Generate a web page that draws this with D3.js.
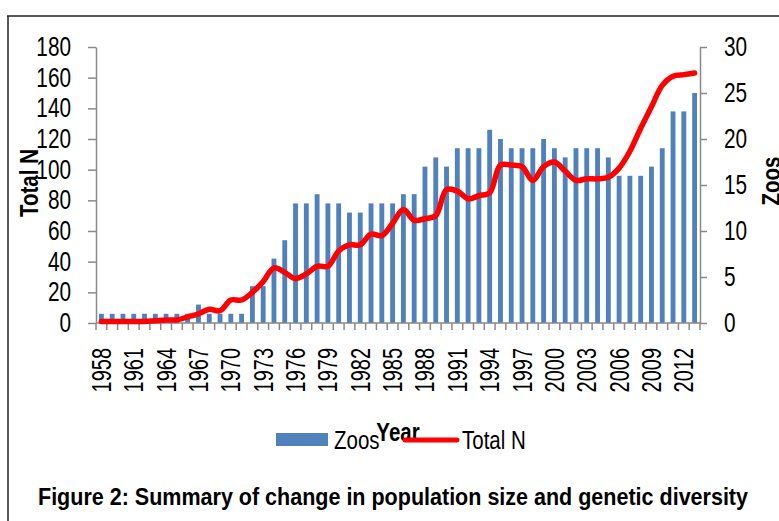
<!DOCTYPE html>
<meta charset="utf-8">
<style>
body { margin: 0; background: #fff; }
svg text { font-family: "Liberation Sans", Arial, sans-serif; fill: #000; }
.axis path, .axis line { stroke: #898989; stroke-width: 1.5px; }
.axis text { font-size: 27px; }
.title { font-weight: bold; }
</style>
<svg width="779" height="521"></svg>
<script src="https://d3js.org/d3.v7.min.js"></script>
<script>

// one entry per year, 1958..2013
var years = d3.range(1958, 2014);
var zoos = [1, 1, 1, 1, 1, 1, 1, 1, 1, 2, 1, 1, 1, 1,
  4, 4, 7, 9, 13, 13, 14, 13, 13, 12, 12, 13, 13, 13, 14, 14,
  17, 18, 17, 19, 19, 19, 21, 20, 19, 19, 19, 20, 19, 18, 19, 19,
  19, 18, 16, 16, 16, 17, 19, 23, 23, 25];
var totalN = [1, 1, 1, 1, 1, 1.5, 2, 2, 4, 6, 9, 8, 15, 15,
  20, 27, 36, 33, 29, 32, 37, 37, 47, 51, 51, 58, 57, 65, 74, 67,
  68, 70, 87, 86, 81, 83, 85, 103, 103, 102, 93, 102, 105, 99, 93, 94,
  94, 95, 101, 112, 127, 141, 155, 161, 162, 163];
var leftTicks = [0, 20, 40, 60, 80, 100, 120, 140, 160, 180];
var rightTicks = [0, 5, 10, 15, 20, 25, 30];
var labelYears = years.filter(function(d) { return (d - 1958) % 3 === 0; });

var svg = d3.select("svg");
var plotL = 96, plotR = 700, plotT = 47, plotB = 323;

// no Arial Narrow here, squeeze Liberation Sans along the baseline instead
function narrow(sel, k) {
  sel.each(function() {
    var t = d3.select(this);
    var tx = +t.attr("x") || 0, ty = +t.attr("y") || 0;
    var tr = t.attr("transform") || "";
    t.attr("x", null).attr("y", null)
      .attr("transform", tr + " translate(" + tx + "," + ty + ") scale(" + k + ",1)");
  });
}

// frame
svg.append("line").attr("x1", 7).attr("x2", 779).attr("y1", 16).attr("y2", 16)
  .attr("stroke", "#222").attr("stroke-width", 1.5);
svg.append("line").attr("x1", 8).attr("x2", 8).attr("y1", 16).attr("y2", 521)
  .attr("stroke", "#222").attr("stroke-width", 1.5);

var x = d3.scaleBand().domain(years).range([plotL, plotR]).padding(0);
var yN = d3.scaleLinear().domain([0, 180]).range([plotB, plotT]);
var yZ = d3.scaleLinear().domain([0, 30]).range([plotB, plotT]);

var barW = x.bandwidth() * 0.45;

svg.append("g").selectAll("rect")
  .data(years)
  .enter().append("rect")
    .attr("x", function(d) { return x(d) + (x.bandwidth() - barW) / 2; })
    .attr("width", barW)
    .attr("y", function(d, i) { return yZ(zoos[i]); })
    .attr("height", function(d, i) { return plotB - yZ(zoos[i]); })
    .attr("fill", "#4f81bd");

// axes
var gl = svg.append("g").attr("class", "axis")
  .attr("transform", "translate(" + plotL + ",0)")
  .call(d3.axisLeft(yN).tickValues(leftTicks).tickSize(8).tickPadding(17).tickSizeOuter(0));
narrow(gl.selectAll("text"), 0.77);

var gr = svg.append("g").attr("class", "axis")
  .attr("transform", "translate(" + plotR + ",0)")
  .call(d3.axisRight(yZ).tickValues(rightTicks).tickSize(7).tickPadding(17).tickSizeOuter(0));
narrow(gr.selectAll("text"), 0.77);

var xAxis = svg.append("g").attr("class", "axis")
  .attr("transform", "translate(0," + plotB + ")");
xAxis.append("line").attr("x1", plotL).attr("x2", plotR);
xAxis.selectAll(".tk")
  .data(years.concat([2014]))
  .enter().append("line")
    .attr("class", "tk")
    .attr("x1", function(d) { return d === 2014 ? plotR : x(d); })
    .attr("x2", function(d) { return d === 2014 ? plotR : x(d); })
    .attr("y1", 0).attr("y2", 7);
xAxis.selectAll("text")
  .data(labelYears)
  .enter().append("text")
    .attr("transform", function(d) {
      return "translate(" + (x(d) + x.bandwidth() / 2) + ",25) rotate(-90)";
    })
    .attr("dy", "0.35em")
    .attr("text-anchor", "end")
    .text(function(d) { return d; });
narrow(xAxis.selectAll("text"), 0.74);

// total N line
var line = d3.line()
  .x(function(d, i) { return x(years[i]) + x.bandwidth() / 2; })
  .y(function(d) { return yN(d); })
  .curve(d3.curveCatmullRom.alpha(0.5));

svg.append("path")
  .datum(totalN)
  .attr("d", line)
  .attr("fill", "none")
  .attr("stroke", "#ff0000")
  .attr("stroke-width", 5.5)
  .attr("stroke-linejoin", "round")
  .attr("stroke-linecap", "round");

// axis titles
var t1 = svg.append("text").attr("class", "title")
  .attr("transform", "translate(38,183) rotate(-90)")
  .attr("text-anchor", "middle")
  .style("font-size", "25px")
  .text("Total N");
var t2 = svg.append("text").attr("class", "title")
  .attr("transform", "translate(780,181) rotate(-90)")
  .attr("text-anchor", "middle")
  .style("font-size", "25px")
  .text("Zoos");
narrow(t1, 0.82); narrow(t2, 0.82);

// legend
svg.append("rect").attr("x", 276).attr("y", 433).attr("width", 52).attr("height", 13)
  .attr("fill", "#4f81bd");
var lg = svg.append("g");
lg.append("text").attr("x", 334).attr("y", 449).style("font-size", "25px").text("Zoos");
lg.append("text").attr("class", "title")
  .attr("x", 398).attr("y", 441).attr("text-anchor", "middle")
  .style("font-size", "25px").text("Year");
lg.append("text").attr("x", 462).attr("y", 449).style("font-size", "25px").text("Total N");
narrow(lg.selectAll("text"), 0.82);
svg.append("line").attr("x1", 405).attr("x2", 457).attr("y1", 440).attr("y2", 440)
  .attr("stroke", "#ff0000").attr("stroke-width", 5).attr("stroke-linecap", "round");

// caption
svg.append("text").attr("class", "title")
  .attr("x", 38).attr("y", 505)
  .attr("textLength", 710).attr("lengthAdjust", "spacingAndGlyphs")
  .style("font-size", "24px")
  .text("Figure 2: Summary of change in population size and genetic diversity");

</script>
